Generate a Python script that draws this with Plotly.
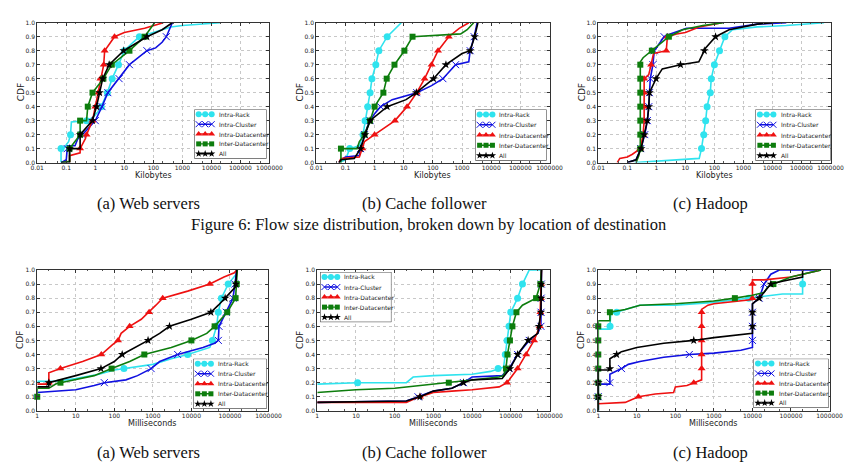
import numpy as np
import plotly.graph_objects as go

# ---------------- data ----------------
SERIES = ["Intra-Rack", "Intra-Cluster", "Intra-Datacenter", "Inter-Datacenter", "All"]
MARK_LEVELS = [0.1, 0.2, 0.3, 0.4, 0.5, 0.6, 0.7, 0.8, 0.9]

size_tickvals = [0.01, 0.1, 1, 10, 100, 1000, 10000, 100000, 1000000]
size_ticktext = ["0.01", "0.1", "1", "10", "100", "1000", "10000", "100000", "1000000"]
time_tickvals = [1, 10, 100, 1000, 10000, 100000, 1000000]
time_ticktext = ["1", "10", "100", "1000", "10000", "100000", "1000000"]
y_tickvals = [0.0, 0.1, 0.2, 0.3, 0.4, 0.5, 0.6, 0.7, 0.8, 0.9, 1.0]
y_ticktext = ["0.0", "0.1", "0.2", "0.3", "0.4", "0.5", "0.6", "0.7", "0.8", "0.9", "1.0"]

sub_captions = ["(a) Web servers", "(b) Cache follower", "(c) Hadoop"]
fig_caption = "Figure 6: Flow size distribution, broken down by location of destination"
x_titles = ["Kilobytes", "Milliseconds"]
y_title = "CDF"

# --- Flow size, Web servers (KB) ---
web_size_rack_x = [0.066, 0.066, 0.08, 0.12, 0.14, 0.15, 0.5, 0.8, 1.2, 1.6, 2.6, 3.8, 6.3, 10, 20, 33, 100, 400, 1000, 10000, 20000]
web_size_rack_y = [0, 0.1, 0.1, 0.15, 0.2, 0.29, 0.3, 0.32, 0.36, 0.4, 0.5, 0.6, 0.7, 0.8, 0.86, 0.9, 0.93, 0.97, 0.98, 0.995, 1.0]
web_size_clus_x = [0.066, 0.1, 0.11, 0.2, 0.25, 0.4, 1.0, 1.7, 2.7, 6.6, 15, 60, 120, 200, 280, 450]
web_size_clus_y = [0, 0.02, 0.12, 0.12, 0.17, 0.21, 0.3, 0.4, 0.5, 0.6, 0.7, 0.8, 0.82, 0.86, 0.9, 1.0]
web_size_dc_x = [0.13, 0.13, 0.3, 0.3, 0.45, 0.5, 0.8, 1.25, 1.5, 1.95, 2.1, 4.6, 10, 50, 220]
web_size_dc_y = [0, 0.05, 0.07, 0.1, 0.17, 0.2, 0.3, 0.5, 0.6, 0.7, 0.8, 0.9, 0.93, 0.96, 1.0]
web_size_inter_x = [0.066, 0.13, 0.13, 0.3, 0.3, 0.5, 0.55, 0.8, 1.9, 3.7, 15, 50, 110]
web_size_inter_y = [0, 0.01, 0.1, 0.2, 0.3, 0.3, 0.4, 0.5, 0.6, 0.7, 0.8, 0.9, 1.0]
web_size_all_x = [0.066, 0.13, 0.13, 0.3, 0.3, 0.8, 1.1, 1.4, 1.8, 3, 9.5, 60, 200, 450]
web_size_all_y = [0, 0.0, 0.1, 0.1, 0.2, 0.3, 0.4, 0.5, 0.6, 0.7, 0.8, 0.9, 0.95, 1.0]

# --- Flow size, Cache follower (KB) ---
cache_size_rack_x = [0.06, 0.1, 0.14, 0.3, 0.4, 0.47, 0.58, 0.7, 0.81, 1.1, 1.4, 2.7, 4.6, 8.2]
cache_size_rack_y = [0, 0.02, 0.1, 0.12, 0.2, 0.3, 0.4, 0.5, 0.6, 0.7, 0.8, 0.9, 0.95, 1.0]
cache_size_clus_x = [0.06, 0.07, 0.1, 0.3, 0.33, 0.45, 0.55, 0.7, 1.0, 1.6, 4, 28, 90, 220, 600, 1700, 1900, 2600, 3300]
cache_size_clus_y = [0, 0.02, 0.04, 0.05, 0.1, 0.2, 0.25, 0.3, 0.35, 0.4, 0.45, 0.5, 0.55, 0.6, 0.7, 0.72, 0.8, 0.9, 1.0]
cache_size_dc_x = [0.06, 0.07, 0.3, 0.38, 0.45, 1.0, 5, 13, 28, 52, 90, 150, 350, 800, 1700]
cache_size_dc_y = [0, 0.03, 0.04, 0.1, 0.15, 0.2, 0.3, 0.4, 0.5, 0.6, 0.7, 0.8, 0.9, 0.96, 1.0]
cache_size_inter_x = [0.06, 0.07, 0.07, 0.25, 0.3, 0.45, 0.7, 1.0, 2, 2.6, 4.8, 10.5, 20, 100, 900, 1500, 2500]
cache_size_inter_y = [0, 0, 0.1, 0.1, 0.15, 0.2, 0.3, 0.4, 0.5, 0.6, 0.7, 0.8, 0.9, 0.91, 0.92, 0.95, 1.0]
cache_size_all_x = [0.06, 0.07, 0.2, 0.33, 0.47, 0.7, 2.7, 12, 27, 105, 280, 1000, 1900, 2700, 3500]
cache_size_all_y = [0, 0.02, 0.03, 0.1, 0.2, 0.3, 0.4, 0.45, 0.5, 0.6, 0.7, 0.78, 0.8, 0.9, 1.0]

# --- Flow size, Hadoop (KB) ---
hadoop_size_rack_x = [0.18, 1, 10, 30, 36, 43, 50, 56, 72, 78, 100, 150, 230, 420, 3000, 30000, 600000]
hadoop_size_rack_y = [0, 0.01, 0.02, 0.03, 0.1, 0.2, 0.3, 0.4, 0.5, 0.6, 0.7, 0.8, 0.9, 0.95, 0.97, 0.98, 1.0]
hadoop_size_clus_x = [0.1, 0.2, 0.29, 0.4, 0.49, 0.55, 0.58, 0.62, 0.76, 0.85, 1.85, 3, 11, 320, 3000, 30000]
hadoop_size_clus_y = [0, 0.02, 0.1, 0.2, 0.3, 0.4, 0.5, 0.6, 0.7, 0.8, 0.9, 0.92, 0.96, 0.96, 0.99, 1.0]
hadoop_size_dc_x = [0.045, 0.055, 0.1, 0.15, 0.28, 0.35, 0.38, 0.38, 0.5, 0.55, 0.66, 0.8, 2.2, 2.4, 5, 10, 30, 180]
hadoop_size_dc_y = [0, 0.03, 0.04, 0.06, 0.1, 0.2, 0.3, 0.6, 0.62, 0.63, 0.7, 0.78, 0.8, 0.9, 0.92, 0.93, 0.97, 1.0]
hadoop_size_inter_x = [0.2, 0.25, 0.28, 0.28, 0.35, 0.7, 1.4, 2.7, 8, 40, 200]
hadoop_size_inter_y = [0, 0.05, 0.1, 0.72, 0.75, 0.8, 0.85, 0.9, 0.95, 0.98, 1.0]
hadoop_size_all_x = [0.1, 0.2, 0.3, 0.38, 0.49, 0.55, 0.58, 0.98, 1.6, 6.8, 29, 45, 50, 110, 320, 3000, 10000]
hadoop_size_all_y = [0, 0.02, 0.1, 0.2, 0.3, 0.4, 0.5, 0.6, 0.67, 0.7, 0.72, 0.8, 0.82, 0.9, 0.95, 0.99, 1.0]

# --- Flow duration, Web servers (ms) ---
web_time_rack_x = [1, 3, 10, 40, 100, 1000, 3000, 8000, 30000, 35000, 45000, 50000, 60000, 90000, 145000, 150000]
web_time_rack_y = [0.21, 0.21, 0.23, 0.26, 0.29, 0.33, 0.37, 0.4, 0.45, 0.5, 0.6, 0.7, 0.8, 0.9, 0.97, 1.0]
web_time_clus_x = [1, 3, 10, 30, 55, 200, 400, 900, 1500, 4400, 20000, 40000, 50000, 52000, 80000, 120000, 150000]
web_time_clus_y = [0.13, 0.14, 0.15, 0.18, 0.2, 0.22, 0.25, 0.3, 0.35, 0.4, 0.45, 0.48, 0.5, 0.6, 0.7, 0.8, 1.0]
web_time_dc_x = [1, 2, 2, 3, 4, 15, 46, 90, 125, 150, 250, 500, 800, 1200, 1800, 8000, 30000, 70000, 130000, 150000]
web_time_dc_y = [0.19, 0.19, 0.27, 0.29, 0.3, 0.35, 0.4, 0.47, 0.5, 0.55, 0.6, 0.65, 0.7, 0.75, 0.8, 0.85, 0.9, 0.95, 0.98, 1.0]
web_time_inter_x = [1, 1, 2, 3, 4, 30, 85, 250, 600, 3000, 10000, 25000, 40000, 60000, 85000, 140000, 150000, 155000]
web_time_inter_y = [0.1, 0.16, 0.16, 0.19, 0.2, 0.25, 0.3, 0.35, 0.4, 0.45, 0.5, 0.55, 0.6, 0.65, 0.7, 0.8, 0.9, 1.0]
web_time_all_x = [1, 2, 2, 4, 10, 45, 100, 160, 350, 750, 1500, 2700, 10000, 32000, 50000, 75000, 140000, 150000]
web_time_all_y = [0.17, 0.17, 0.2, 0.22, 0.25, 0.3, 0.35, 0.4, 0.45, 0.5, 0.55, 0.6, 0.65, 0.7, 0.75, 0.8, 0.88, 1.0]

# --- Flow duration, Cache follower (ms) ---
cache_time_rack_x = [1, 11, 200, 300, 1000, 10000, 30000, 47000, 65000, 72000, 80000, 90000, 100000, 150000, 200000, 300000, 600000]
cache_time_rack_y = [0.19, 0.2, 0.2, 0.24, 0.25, 0.26, 0.28, 0.3, 0.31, 0.4, 0.5, 0.6, 0.7, 0.8, 0.9, 1.0, 1.0]
cache_time_clus_x = [1, 200, 400, 1000, 3000, 6000, 10000, 60000, 90000, 150000, 300000, 500000, 600000, 620000]
cache_time_clus_y = [0.06, 0.07, 0.1, 0.14, 0.16, 0.2, 0.24, 0.25, 0.3, 0.4, 0.5, 0.55, 0.6, 1.0]
cache_time_dc_x = [1, 200, 350, 450, 1000, 3000, 10000, 50000, 80000, 150000, 250000, 400000, 560000, 600000, 620000]
cache_time_dc_y = [0.06, 0.06, 0.09, 0.1, 0.13, 0.14, 0.15, 0.17, 0.2, 0.3, 0.4, 0.5, 0.6, 0.8, 1.0]
cache_time_inter_x = [1, 10, 100, 500, 2500, 10000, 50000, 65000, 75000, 82000, 95000, 110000, 140000, 200000, 450000, 580000, 620000]
cache_time_inter_y = [0.13, 0.15, 0.16, 0.18, 0.2, 0.22, 0.24, 0.25, 0.3, 0.4, 0.5, 0.6, 0.7, 0.75, 0.8, 0.9, 1.0]
cache_time_all_x = [1, 200, 450, 1000, 3000, 6000, 10000, 60000, 95000, 150000, 280000, 500000, 600000, 610000, 620000]
cache_time_all_y = [0.06, 0.07, 0.1, 0.14, 0.16, 0.2, 0.22, 0.23, 0.3, 0.4, 0.5, 0.55, 0.7, 0.8, 1.0]

# --- Flow duration, Hadoop (ms) ---
hadoop_time_rack_x = [1, 2, 2.1, 3, 5, 12, 100, 1000, 4000, 8000, 12000, 30000, 60000, 200000, 200000, 600000]
hadoop_time_rack_y = [0.58, 0.58, 0.69, 0.7, 0.72, 0.75, 0.75, 0.77, 0.79, 0.8, 0.81, 0.82, 0.83, 0.83, 0.97, 1.0]
hadoop_time_clus_x = [1, 1, 2, 2, 4, 6, 12, 50, 230, 1000, 5000, 10000, 10000, 15000, 20000, 30000, 50000, 600000]
hadoop_time_clus_y = [0, 0.19, 0.19, 0.26, 0.3, 0.33, 0.35, 0.38, 0.4, 0.41, 0.43, 0.45, 0.76, 0.8, 0.9, 0.97, 1.0, 1.0]
hadoop_time_dc_x = [1, 5, 11, 30, 90, 100, 200, 300, 480, 480, 700, 1000, 5000, 10000, 10000, 20000, 100000, 600000]
hadoop_time_dc_y = [0.05, 0.06, 0.1, 0.12, 0.13, 0.17, 0.18, 0.2, 0.22, 0.72, 0.75, 0.76, 0.78, 0.79, 0.93, 0.93, 0.95, 1.0]
hadoop_time_inter_x = [1, 1, 2, 2, 5, 12, 100, 1000, 3500, 10000, 20000, 25000, 35000, 100000, 200000, 600000]
hadoop_time_inter_y = [0, 0.64, 0.64, 0.7, 0.72, 0.75, 0.76, 0.78, 0.8, 0.82, 0.84, 0.88, 0.9, 0.95, 0.97, 1.0]
hadoop_time_all_x = [1, 1, 2, 2, 3, 4, 10, 50, 300, 1000, 10000, 10000, 15000, 30000, 60000, 200000, 200000]
hadoop_time_all_y = [0, 0.29, 0.29, 0.37, 0.4, 0.42, 0.45, 0.48, 0.5, 0.52, 0.55, 0.76, 0.8, 0.9, 0.92, 0.95, 1.0]

# ---------------- styling / layout ----------------
W, H = 865, 470
def PX(px): return px / W
def PY(py): return 1 - py / H

STYLE = {
    "Intra-Rack":       dict(color="#2fe3ee", symbol="circle", size=7),
    "Intra-Cluster":    dict(color="#1010e0", symbol="x-thin", size=7),
    "Intra-Datacenter": dict(color="#ee1111", symbol="triangle-up", size=7),
    "Inter-Datacenter": dict(color="#0d7d0d", symbol="square", size=6),
    "All":              dict(color="#000000", symbol="star", size=6.5),
}

panels = [
    dict(data=[(web_size_rack_x, web_size_rack_y), (web_size_clus_x, web_size_clus_y), (web_size_dc_x, web_size_dc_y), (web_size_inter_x, web_size_inter_y), (web_size_all_x, web_size_all_y)],
         box=(31, 269, 19, 161), kind=0, leg=(192, 266, 107, 157)),
    dict(data=[(cache_size_rack_x, cache_size_rack_y), (cache_size_clus_x, cache_size_clus_y), (cache_size_dc_x, cache_size_dc_y), (cache_size_inter_x, cache_size_inter_y), (cache_size_all_x, cache_size_all_y)],
         box=(317, 556, 19, 161), kind=0, leg=(480, 553, 107, 159)),
    dict(data=[(hadoop_size_rack_x, hadoop_size_rack_y), (hadoop_size_clus_x, hadoop_size_clus_y), (hadoop_size_dc_x, hadoop_size_dc_y), (hadoop_size_inter_x, hadoop_size_inter_y), (hadoop_size_all_x, hadoop_size_all_y)],
         box=(606, 844, 19, 161), kind=0, leg=(767, 844, 107, 159)),
    dict(data=[(web_time_rack_x, web_time_rack_y), (web_time_clus_x, web_time_clus_y), (web_time_dc_x, web_time_dc_y), (web_time_inter_x, web_time_inter_y), (web_time_all_x, web_time_all_y)],
         box=(31, 268, 270, 413), kind=1, leg=(191, 266, 360, 411)),
    dict(data=[(cache_time_rack_x, cache_time_rack_y), (cache_time_clus_x, cache_time_clus_y), (cache_time_dc_x, cache_time_dc_y), (cache_time_inter_x, cache_time_inter_y), (cache_time_all_x, cache_time_all_y)],
         box=(318, 556, 270, 413), kind=1, leg=(321, 394, 272, 323)),
    dict(data=[(hadoop_time_rack_x, hadoop_time_rack_y), (hadoop_time_clus_x, hadoop_time_clus_y), (hadoop_time_dc_x, hadoop_time_dc_y), (hadoop_time_inter_x, hadoop_time_inter_y), (hadoop_time_all_x, hadoop_time_all_y)],
         box=(606, 843, 270, 413), kind=1, leg=(765, 842, 360, 410)),
]

TICKFONT = dict(family="DejaVu Sans", size=6, color="#222")
fig = go.Figure()
layout = dict(width=W, height=H, margin=dict(l=0, r=0, t=0, b=0),
              paper_bgcolor="white", plot_bgcolor="white", showlegend=False)
annotations = []

def marker_positions(xs, ys):
    lx = np.log10(np.asarray(xs, float))
    yv = np.asarray(ys, float)
    mx, my = [], []
    for lv in MARK_LEVELS:
        if yv.min() <= lv <= yv.max():
            idx = np.argmax(yv >= lv - 1e-9)
            if idx == 0:
                mx.append(10 ** lx[0])
            else:
                y0, y1 = yv[idx - 1], yv[idx]
                t = 0 if y1 == y0 else (lv - y0) / (y1 - y0)
                mx.append(10 ** (lx[idx - 1] + t * (lx[idx] - lx[idx - 1])))
            my.append(lv)
    return mx, my

for i, p in enumerate(panels):
    n = i + 1
    ax = "" if n == 1 else str(n)
    l, r, t, b = p["box"]
    kind = p["kind"]
    for name, (xs, ys) in zip(SERIES, p["data"]):
        st = STYLE[name]
        fig.add_trace(go.Scatter(x=xs, y=ys, mode="lines", line=dict(color=st["color"], width=1.6),
                                 xaxis="x" + ax, yaxis="y" + ax, hoverinfo="skip", cliponaxis=False))
        mx, my = marker_positions(xs, ys)
        mk = dict(color=st["color"], symbol=st["symbol"], size=st["size"])
        if st["symbol"] == "x-thin":
            mk["line"] = dict(color=st["color"], width=1)
        else:
            mk["line"] = dict(width=0)
        fig.add_trace(go.Scatter(x=mx, y=my, mode="markers", marker=mk,
                                 xaxis="x" + ax, yaxis="y" + ax, hoverinfo="skip", cliponaxis=False))
    if kind == 0:
        xr, tv, tt = [-2, 6], size_tickvals, size_ticktext
    else:
        xr, tv, tt = [0, 6], time_tickvals, time_ticktext
    layout["xaxis" + ax] = dict(type="log", range=xr, domain=[PX(l), PX(r)], anchor="y" + ax,
                                tickvals=tv, ticktext=tt, tickfont=TICKFONT, ticks="inside", ticklen=3,
                                tickcolor="#333", showline=True, linecolor="#333", linewidth=1, mirror="ticks",
                                showgrid=True, gridcolor="#c8c8c8", gridwidth=0.6, griddash="dot",
                                zeroline=False, fixedrange=True, ticklabelstandoff=-1,
                                minor=dict(ticks="inside", ticklen=1.5, tickcolor="#555", showgrid=False))
    layout["yaxis" + ax] = dict(range=[0, 1], domain=[PY(b), PY(t)], anchor="x" + ax,
                                tickvals=y_tickvals, ticktext=y_ticktext, tickfont=TICKFONT, ticks="inside", ticklen=3,
                                tickcolor="#333", showline=True, linecolor="#333", linewidth=1, mirror="ticks",
                                showgrid=True, gridcolor="#c8c8c8", gridwidth=0.6, griddash="dot",
                                zeroline=False, fixedrange=True)
    # axis titles
    annotations.append(dict(text=x_titles[kind], x=(PX(l) + PX(r)) / 2, y=PY(b + 13), xref="paper", yref="paper",
                            showarrow=False, xanchor="center", yanchor="middle",
                            font=dict(family="DejaVu Sans", size=8, color="#222")))
    annotations.append(dict(text=y_title, x=PX(l - 17), y=(PY(t) + PY(b)) / 2, xref="paper", yref="paper",
                            showarrow=False, textangle=-90, xanchor="center", yanchor="middle",
                            font=dict(family="DejaVu Sans", size=9, color="#222")))

    # custom legend in its own small axis
    j = n + 6
    ll, lr, lt, lb = p["leg"]
    layout["xaxis%d" % j] = dict(domain=[PX(ll), PX(lr)], range=[0, 1], visible=False, fixedrange=True, anchor="y%d" % j)
    layout["yaxis%d" % j] = dict(domain=[PY(lb), PY(lt)], range=[0, 5], visible=False, fixedrange=True, anchor="x%d" % j)
    fig.add_trace(go.Scatter(x=[0, 1, 1, 0, 0], y=[0, 0, 5, 5, 0], mode="lines", fill="toself",
                             fillcolor="white", line=dict(color="#333", width=1),
                             xaxis="x%d" % j, yaxis="y%d" % j, hoverinfo="skip", cliponaxis=False))
    for k, name in enumerate(SERIES):
        st = STYLE[name]
        yrow = 4.5 - k
        mk = dict(color=st["color"], symbol=st["symbol"], size=st["size"] - 1)
        mk["line"] = dict(color=st["color"], width=1) if st["symbol"] == "x-thin" else dict(width=0)
        fig.add_trace(go.Scatter(x=[0.06, 0.15, 0.24], y=[yrow] * 3, mode="lines+markers",
                                 line=dict(color=st["color"], width=1.4), marker=mk,
                                 xaxis="x%d" % j, yaxis="y%d" % j, hoverinfo="skip", cliponaxis=False))
        annotations.append(dict(text=name, x=0.31, y=yrow, xref="x%d" % j, yref="y%d" % j,
                                showarrow=False, xanchor="left", yanchor="middle",
                                font=dict(family="DejaVu Sans", size=6, color="#222")))

# captions
CAPFONT = dict(family="Liberation Serif", size=16.5, color="#111")
cap_centers = [145, 428, 721]
for row_y in (203, 455):
    for c, txt in zip(cap_centers, sub_captions):
        annotations.append(dict(text=txt, x=PX(c), y=PY(row_y), xref="paper", yref="paper", showarrow=False,
                                xanchor="center", yanchor="middle", font=CAPFONT))
annotations.append(dict(text=fig_caption, x=PX(432), y=PY(224), xref="paper", yref="paper", showarrow=False,
                        xanchor="center", yanchor="middle", font=CAPFONT))

layout["annotations"] = annotations
fig.update_layout(**layout)
fig.write_html("out.html", config={"displayModeBar": False},
               post_script="document.body.style.margin='0';document.body.style.overflow='hidden';")
